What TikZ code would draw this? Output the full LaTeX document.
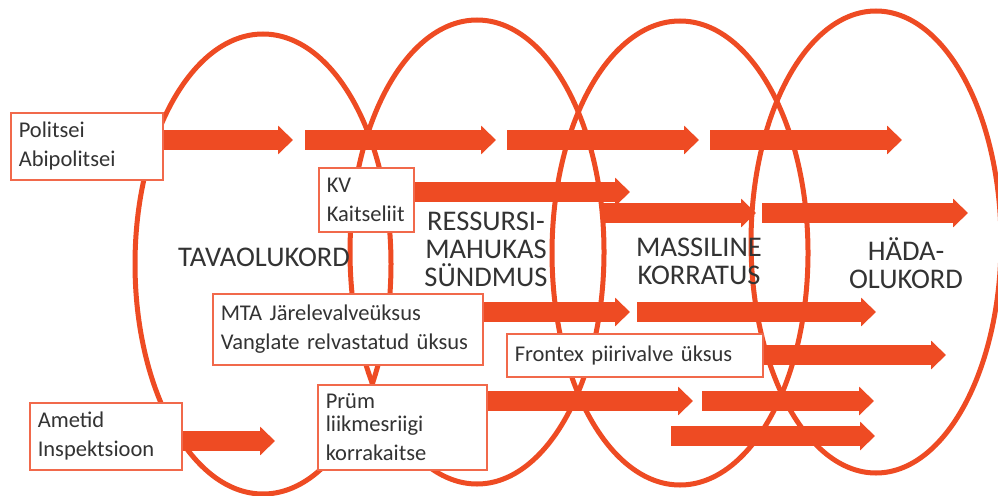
\documentclass[tikz,border=0pt]{standalone}
\usepackage{fontspec}
\setmainfont{Carlito}
\usetikzlibrary{arrows.meta,backgrounds}
\definecolor{fire}{RGB}{238,75,35}
\definecolor{firelight}{RGB}{241,105,75}
\definecolor{ink}{RGB}{51,51,51}
\begin{document}
\begin{tikzpicture}[x=1pt,y=-1pt,font=\fontsize{22.5}{29}\selectfont,text=ink]
    \tikzstyle{phase}=[draw=fire,line width=5pt]
    \tikzstyle{fat}=[draw=fire,line width=20pt,-{Triangle[length=15pt,width=28pt]}]
    \tikzstyle{unit}=[draw=firelight,line width=1.5pt,fill=white,anchor=north west,align=left,inner xsep=8pt,inner ysep=0pt]
    \tikzstyle{stage}=[font=\fontsize{28.5}{28}\selectfont,align=center]
    \useasboundingbox (0,0) rectangle (998,495);

    % units
    \node(politsei)[unit,text width=136pt,minimum height=67pt] at (10,112) {Politsei\\Abipolitsei};
    \node(kv)[unit,text width=79pt,minimum height=64pt] at (318,167) {KV\\Kaitseliit};
    \node(mta)[unit,text width=254pt,minimum height=71pt] at (212,293) {MTA Järelevalveüksus\\Vanglate relvastatud üksus};
    \node(frontex)[unit,text width=240pt,minimum height=43pt] at (506,333) {Frontex piirivalve üksus};
    \node(prum)[unit,text width=153pt,minimum height=85pt] at (317,384) {Prüm\\[-6pt]liikmesriigi\\korrakaitse};
    \node(ametid)[unit,text width=136pt,minimum height=67pt] at (29,402) {Ametid\\Inspektsioon};

    % situations
    \node(tava)[stage] at (264,257) {TAVAOLUKORD};
    \node(ressurss)[stage] at (486,249) {RESSURSI-\\MAHUKAS\\SÜNDMUS};
    \node(massiline)[stage] at (699,261) {MASSILINE\\KORRATUS};
    \node(hada)[stage] at (906,263) {HÄDA-\\OLUKORD};

    \begin{pgfonlayer}{background}
    \draw[phase] (263,264) ellipse [x radius=128pt, y radius=230pt];
    \draw[phase] (477,252) ellipse [x radius=127pt, y radius=232pt];
    \draw[phase] (680,253) ellipse [x radius=128pt, y radius=232pt];
    \draw[phase] (876,242) ellipse [x radius=125pt, y radius=231pt];
    % arrows out of the units
    \draw[fat] (politsei.east |- 0,140) -- (293,140);
    \draw[fat] (kv.east |- 0,192) -- (630,192);
    \draw[fat] (mta.east |- 0,312) -- (630,312);
    \draw[fat] (frontex.east |- 0,355) -- (946,355);
    \draw[fat] (prum.east |- 0,401) -- (693,401);
    \draw[fat] (ametid.east |- 0,441) -- (275,441);
    % arrows further on
    \foreach \y/\a/\b in {140/305/496,140/507/699,140/710/902,213/603/756,213/762/968,312/637/876,401/702/874,436/671/875}
        \draw[fat] (\a,\y) -- (\b,\y);
    \end{pgfonlayer}
\end{tikzpicture}
\end{document}
